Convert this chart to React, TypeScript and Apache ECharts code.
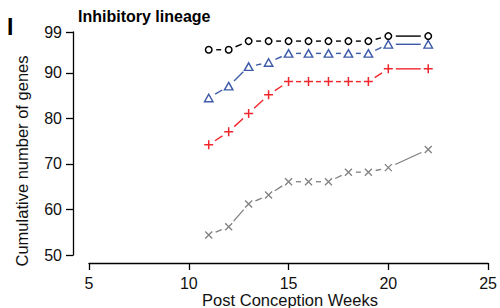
import React, { useEffect, useRef } from "react";
import * as echarts from "echarts";

const weeks = [11, 12, 13, 14, 15, 16, 17, 18, 19, 20, 22];
const circleSeries = [95.1, 95.1, 97.0, 97.0, 97.0, 97.0, 97.0, 97.0, 97.0, 98.1, 98.1];
const triangleSeries = [84.5, 87.1, 91.4, 92.3, 94.3, 94.3, 94.3, 94.3, 94.3, 96.3, 96.3];
const plusSeries = [74.2, 77.1, 81.1, 85.2, 88.1, 88.1, 88.1, 88.1, 88.1, 90.9, 90.9];
const crossSeries = [54.4, 56.2, 61.2, 63.2, 66.1, 66.1, 66.1, 68.2, 68.2, 69.2, 73.2];
const xTicks = [5, 10, 15, 20, 25];
const yTicks = [50, 60, 70, 80, 90, 99];

const FONT = "Liberation Sans, Arial, Helvetica, sans-serif";
const GAP = 7.5;

function segments(vals: number[]) {
  const out: number[][] = [];
  for (let i = 0; i < vals.length - 1; i++) {
    out.push([weeks[i], vals[i], weeks[i + 1], vals[i + 1]]);
  }
  return out;
}

function lineSeries(vals: number[], color: string, width: number) {
  return {
    type: "custom",
    data: segments(vals),
    silent: true,
    renderItem: (params: any, api: any) => {
      const p1 = api.coord([api.value(0), api.value(1)]);
      const p2 = api.coord([api.value(2), api.value(3)]);
      const dx = p2[0] - p1[0];
      const dy = p2[1] - p1[1];
      const len = Math.sqrt(dx * dx + dy * dy);
      if (len <= 2 * GAP) return { type: "group", children: [] };
      const ux = dx / len;
      const uy = dy / len;
      return {
        type: "line",
        shape: {
          x1: p1[0] + ux * GAP,
          y1: p1[1] + uy * GAP,
          x2: p2[0] - ux * GAP,
          y2: p2[1] - uy * GAP,
        },
        style: { stroke: color, lineWidth: width, fill: null },
      };
    },
  };
}

function pointSeries(vals: number[], symbol: string, size: any, color: string, bw: number) {
  return {
    type: "scatter",
    data: weeks.map((w, i) => [w, vals[i]]),
    symbol,
    symbolSize: size,
    silent: true,
    itemStyle: { color: "rgba(0,0,0,0)", borderColor: color, borderWidth: bw, opacity: 1 },
  };
}

export default function App() {
  const ref = useRef<HTMLDivElement>(null);
  useEffect(() => {
    if (!ref.current) return;
    const chart = echarts.init(ref.current, null, { renderer: "svg" });
    chart.setOption({
      animation: false,
      backgroundColor: "#fff",
      grid: { left: 89, right: 9.5, top: 32, bottom: 53 },
      xAxis: {
        type: "value",
        min: 5,
        max: 25,
        interval: 5,
        offset: 8,
        splitLine: { show: false },
        axisLine: { show: true, lineStyle: { color: "#000", width: 1.3 } },
        axisTick: { show: true, length: 7, lineStyle: { color: "#000", width: 1.3 }, customValues: xTicks },
        axisLabel: { color: "#111", fontSize: 16, fontFamily: FONT, margin: 12, customValues: xTicks },
      },
      yAxis: {
        type: "value",
        min: 50,
        max: 99,
        offset: 16,
        splitLine: { show: false },
        axisLine: { show: true, lineStyle: { color: "#000", width: 1.3 } },
        axisTick: { show: true, length: 7, lineStyle: { color: "#000", width: 1.3 }, customValues: yTicks },
        axisLabel: { color: "#111", fontSize: 16, fontFamily: FONT, margin: 11, customValues: yTicks },
      },
      graphic: [
        {
          type: "text",
          left: 7,
          top: 15,
          style: { text: "I", font: `bold 23px ${FONT}`, fill: "#000" },
        },
        {
          type: "text",
          left: 78,
          top: 8,
          style: { text: "Inhibitory lineage", font: `bold 16px ${FONT}`, fill: "#000" },
        },
        {
          type: "text",
          x: 22,
          y: 161,
          rotation: Math.PI / 2,
          style: {
            text: "Cumulative number of genes",
            font: `16.5px ${FONT}`,
            fill: "#111",
            align: "center",
            verticalAlign: "middle",
          },
        },
        {
          type: "text",
          x: 290,
          y: 299.5,
          style: {
            text: "Post Conception Weeks",
            font: `16.5px ${FONT}`,
            fill: "#111",
            align: "center",
            verticalAlign: "middle",
          },
        },
      ],
      series: [
        lineSeries(crossSeries, "#808080", 1.3),
        lineSeries(plusSeries, "#f0262d", 1.4),
        lineSeries(triangleSeries, "#3c5aa8", 1.4),
        lineSeries(circleSeries, "#000000", 1.4),
        pointSeries(crossSeries, "path://M0,0L10,10M10,0L0,10", 7, "#808080", 1.3),
        pointSeries(plusSeries, "path://M0,5L10,5M5,0L5,10", 9, "#f0262d", 1.5),
        pointSeries(triangleSeries, "triangle", [8.5, 7.5], "#3c5aa8", 1.4),
        pointSeries(circleSeries, "circle", 6.5, "#000000", 1.5),
      ],
    });
    return () => chart.dispose();
  }, []);
  return (
    <div
      ref={ref}
      style={{ position: "fixed", left: 0, top: 0, width: 500, height: 308 }}
    />
  );
}
